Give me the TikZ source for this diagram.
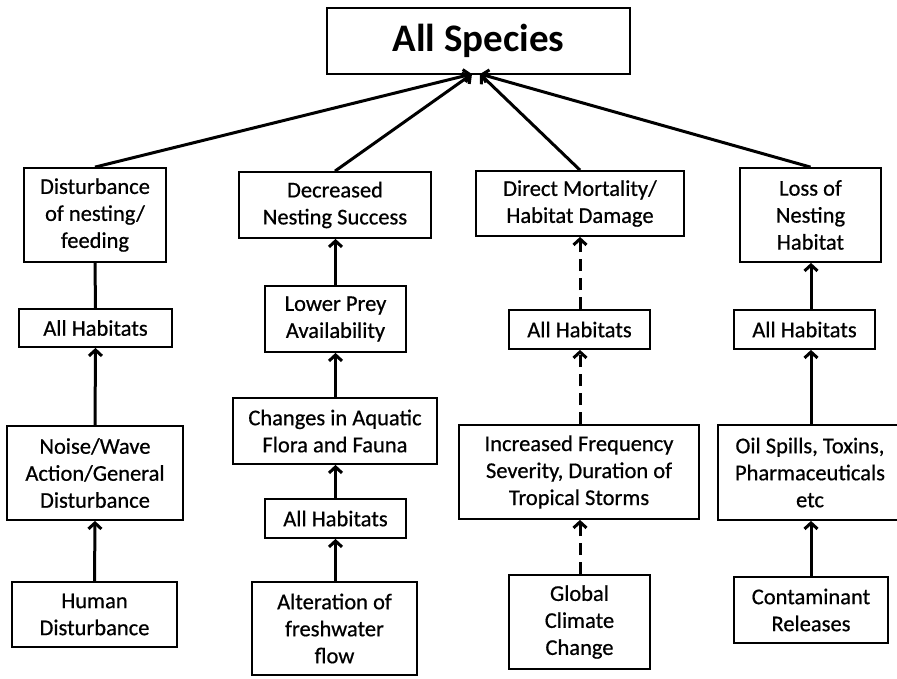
\documentclass[tikz,border=0pt]{standalone}
\usepackage{fontspec}
\setmainfont{Carlito}
\newfontfamily\boxfont{Carlito}[FakeBold=0.6]
\usetikzlibrary{arrows.meta}
\begin{document}
\begin{tikzpicture}[x=1pt,y=-1pt,
  box/.style={draw,line width=1.8pt,align=center,inner sep=0pt,
    font=\boxfont\fontsize{22.5}{27}\selectfont},
  arr/.style={line width=3pt,-{Straight Barb[length=6pt,width=13pt]}},
  link/.style={line width=3pt},
  dsh/.style={arr,dash pattern=on 12pt off 7pt}]
\useasboundingbox (0,0) rectangle (897,678);
\fill[white] (0,0) rectangle (897,678);
\node[box,minimum width=303pt,minimum height=66pt,font=\fontsize{39}{44}\bfseries] (top) at (478.5,41) {All Species};
\node[box,minimum width=142pt,minimum height=94pt] (dist) at (95,215) {Disturbance\\of nesting/\\feeding};
\node[box,minimum width=192pt,minimum height=66pt] (decr) at (335,205) {Decreased\\Nesting Success};
\node[box,minimum width=208pt,minimum height=65pt] (direct) at (580,203.5) {Direct Mortality/\\Habitat Damage};
\node[box,minimum width=141pt,minimum height=94pt] (loss) at (810.5,215) {Loss of\\Nesting\\Habitat};
\node[box,minimum width=153pt,minimum height=38pt] (ah1) at (95.5,328) {All Habitats};
\node[box,minimum width=141pt,minimum height=66pt] (lower) at (335.5,319) {Lower Prey\\Availability};
\node[box,minimum width=141pt,minimum height=39pt] (ah3) at (579.5,329.5) {All Habitats};
\node[box,minimum width=141pt,minimum height=39pt] (ah4) at (804.5,329.5) {All Habitats};
\node[box,minimum width=176pt,minimum height=94pt] (noise) at (95,473) {Noise/Wave\\Action/General\\Disturbance};
\node[box,minimum width=204pt,minimum height=66pt] (changes) at (335,431) {Changes in Aquatic\\Flora and Fauna};
\node[box,minimum width=240pt,minimum height=94pt] (incr) at (579,472) {Increased Frequency\\Severity, Duration of\\Tropical Storms};
\node[box,minimum width=184pt,minimum height=95pt] (oil) at (810,472.5) {Oil Spills, Toxins,\\Pharmaceuticals\\etc};
\node[box,minimum width=141pt,minimum height=39pt] (ah2) at (335.5,518.5) {All Habitats};
\node[box,minimum width=165pt,minimum height=65pt] (human) at (94.5,614.5) {Human\\Disturbance};
\node[box,minimum width=165pt,minimum height=93pt] (alter) at (334.5,628.5) {Alteration of\\freshwater\\flow};
\node[box,minimum width=141pt,minimum height=94pt] (global) at (579.5,622) {Global\\Climate\\Change};
\node[box,minimum width=154pt,minimum height=66pt] (contam) at (811,610) {Contaminant\\Releases};
\coordinate (tl) at (472,74);
\coordinate (tr) at (480,74);
% top level
\draw[arr] (dist.north) -- (tl);
\draw[arr] (decr.north) -- (tl);
\draw[arr] (direct.north) -- (tr);
\draw[arr] (loss.north) -- (tr);
% column 1
\draw[link] (ah1.north) -- (dist.south);
\draw[arr] (noise.north) -- (ah1.south);
\draw[arr] (human.north) -- (noise.south);
% column 2
\draw[arr] (lower.north) -- (decr.south -| lower.north);
\draw[arr] (changes.north -| lower.north) -- (lower.south);
\draw[arr] (ah2.north) -- (changes.south -| ah2.north);
\draw[arr] (alter.north -| ah2.south) -- (ah2.south);
% column 3
\draw[dsh] (ah3.north -| direct.south) -- (direct.south);
\draw[dsh] (incr.north -| direct.south) -- (ah3.south -| direct.south);
\draw[dsh] (global.north -| direct.south) -- (incr.south -| direct.south);
% column 4
\draw[arr] (ah4.north -| contam.north) -- (loss.south -| contam.north);
\draw[arr] (oil.north -| contam.north) -- (ah4.south -| contam.north);
\draw[arr] (contam.north) -- (oil.south -| contam.north);
\end{tikzpicture}
\end{document}
